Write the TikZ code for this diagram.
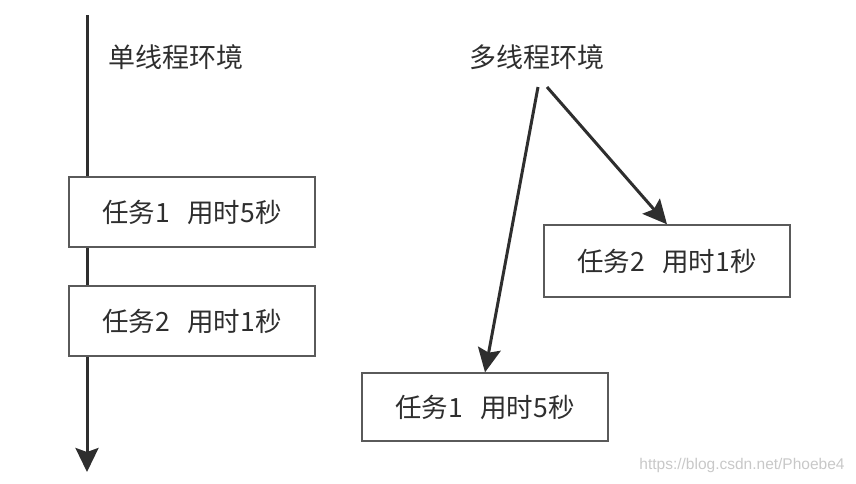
\documentclass[tikz,border=0pt]{standalone}
\usepackage{fontspec}
\newfontfamily\cjk{Noto Sans CJK SC}
\newfontfamily\markfont{Liberation Sans}
\usetikzlibrary{arrows.meta, positioning}

\definecolor{inkgray}{HTML}{2E2E2E}
\definecolor{boxgray}{HTML}{5A5A5A}
\definecolor{markgray}{HTML}{C8C8C8}

\begin{document}
\begin{tikzpicture}[
    x=1pt, y=-1pt,
    task/.style={
      rectangle,
      draw=boxgray,
      line width=1.4pt,
      fill=white,
      minimum width=246pt,
      minimum height=70pt,
      text=inkgray,
      font=\cjk\fontsize{26.5}{30}\selectfont
    },
    title/.style={
      text=inkgray,
      font=\cjk\fontsize{27}{32}\selectfont
    },
    flow/.style={
      draw=inkgray,
      line width=3pt,
      -{Stealth[length=24pt, width=23pt, inset=4pt]}
    }
  ]
    \useasboundingbox (0,0) rectangle (856,483);

    % Left side: single thread
    \coordinate (stop) at (87,15);
    \coordinate (sbot) at (87,472);
    \draw[flow] (stop) -- (sbot);

    \node (single) [title] at (176,57) {单线程环境};
    \node (st1) [task] at (192,212) {任务1\hspace{0.65em}用时5秒};
    \node (st2) [task] at (192,321) {任务2\hspace{0.65em}用时1秒};

    % Right side: multi thread
    \node (multi) [title] at (537,57) {多线程环境};
    \node (mt2) [task, minimum height=72pt] at (667,261) {任务2\hspace{0.65em}用时1秒};
    \node (mt1) [task, minimum height=68pt] at (485,407) {任务1\hspace{0.65em}用时5秒};

    \coordinate (mleft)  at (538,87);
    \coordinate (mright) at (547,87);

    % Edges
    \draw[flow] (mright) -- (mt2.north);
    \draw[flow] (mleft)  -- (mt1.north);

    \node (mark) [text=markgray, font=\markfont\fontsize{15.5}{18}\selectfont]
      at (742,465) {https://blog.csdn.net/Phoebe4};

  \end{tikzpicture}
\end{document}
